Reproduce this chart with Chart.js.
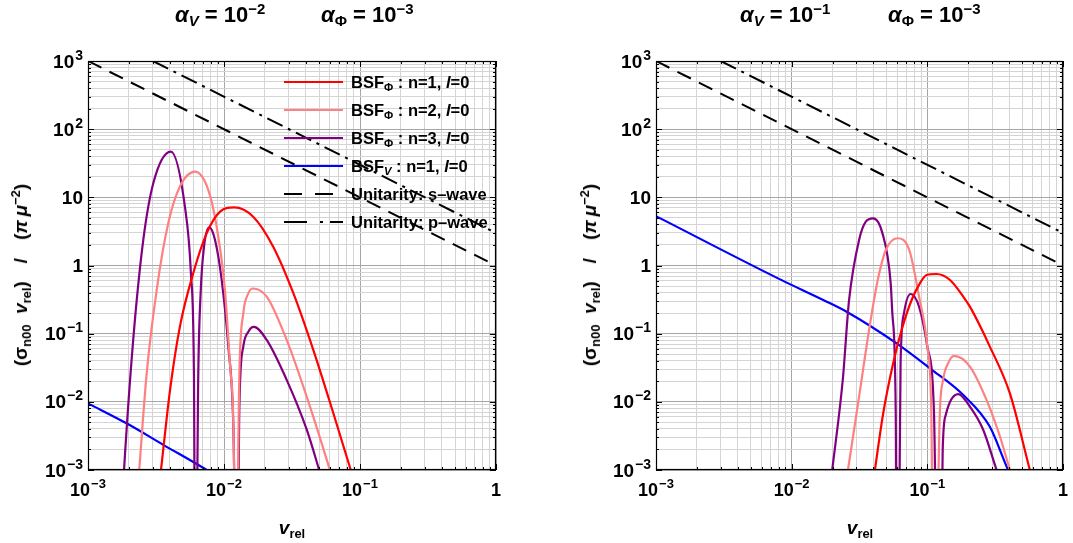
<!DOCTYPE html>
<html>
<head>
<meta charset="utf-8">
<script src="https://cdn.jsdelivr.net/npm/chart.js@4.4.0/dist/chart.umd.min.js"></script>
<style>
  html, body { margin: 0; padding: 0; background: #fff; }
  #wrap { position: relative; width: 1073px; height: 543px; overflow: hidden;
          font-family: "Liberation Sans", Arial, sans-serif; font-weight: bold; color: #000; }
  canvas { position: absolute; left: 0; top: 0; }
  .txt { position: absolute; white-space: nowrap; line-height: 26px; }
  .ttl { font-size: 22px; }
  .axt { font-size: 19px; }
  .rot { transform: translate(-50%, -50%) rotate(-90deg); }
  .ctr { transform: translate(-50%, -50%); }
  .gap { margin: 0 18px; }
  sub, sup { font-size: 68%; line-height: 0; }
  sub { vertical-align: -0.3em; }
  sup { vertical-align: 0.55em; }
  .leg { position: absolute; left: 284px; height: 20px; display: flex; align-items: center;
         font-size: 16.5px; white-space: nowrap; }
  .leg svg { width: 59px; height: 6px; margin-right: 8px; flex: none; }
</style>
</head>
<body>
<div id="wrap">
  <canvas id="left" width="1073" height="543"></canvas>
  <canvas id="right" width="1073" height="543"></canvas>

  <div class="txt ttl" style="left:175px; top:2px"><i>α</i><sub><i>V</i></sub> = 10<sup>−2</sup></div>
  <div class="txt ttl" style="left:321px; top:2px"><i>α</i><sub>Φ</sub> = 10<sup>−3</sup></div>
  <div class="txt ttl" style="left:740px; top:2px"><i>α</i><sub><i>V</i></sub> = 10<sup>−1</sup></div>
  <div class="txt ttl" style="left:888px; top:2px"><i>α</i><sub>Φ</sub> = 10<sup>−3</sup></div>

  <div class="txt axt rot" style="left:21px; top:275px">(σ<sub>n00</sub>&nbsp; <i>v</i><sub>rel</sub>)<span class="gap">/</span>(<i>π</i>&thinsp;<i>μ</i><sup>−2</sup>)</div>
  <div class="txt axt rot" style="left:590px; top:275px">(σ<sub>n00</sub>&nbsp; <i>v</i><sub>rel</sub>)<span class="gap">/</span>(<i>π</i>&thinsp;<i>μ</i><sup>−2</sup>)</div>
  <div class="txt axt ctr" style="left:292px; top:528px"><i>v</i><sub>rel</sub></div>
  <div class="txt axt ctr" style="left:860px; top:528px"><i>v</i><sub>rel</sub></div>

  <div class="leg" style="top:72px"><svg><line x1="0" y1="3" x2="59" y2="3" stroke="#ff0000" stroke-width="2.2"/></svg><span>BSF<sub>Φ</sub> : n=1, <i>l</i>=0</span></div>
  <div class="leg" style="top:100px"><svg><line x1="0" y1="3" x2="59" y2="3" stroke="#ff8080" stroke-width="2.2"/></svg><span>BSF<sub>Φ</sub> : n=2, <i>l</i>=0</span></div>
  <div class="leg" style="top:128px"><svg><line x1="0" y1="3" x2="59" y2="3" stroke="#800080" stroke-width="2.2"/></svg><span>BSF<sub>Φ</sub> : n=3, <i>l</i>=0</span></div>
  <div class="leg" style="top:156px"><svg><line x1="0" y1="3" x2="59" y2="3" stroke="#0000ff" stroke-width="2.2"/></svg><span>BSF<sub><i>V</i></sub> : n=1, <i>l</i>=0</span></div>
  <div class="leg" style="top:184px"><svg><line x1="0" y1="3" x2="59" y2="3" stroke="#000" stroke-width="2.2" stroke-dasharray="18 13"/></svg><span>Unitarity: s–wave</span></div>
  <div class="leg" style="top:212px"><svg><line x1="0" y1="3" x2="59" y2="3" stroke="#000" stroke-width="2.2" stroke-dasharray="23 13 3 7 20 0"/></svg><span>Unitarity: p–wave</span></div>
</div>

<script>
// --- ejes ---
const xTickValues = [1e-3, 1e-2, 1e-1, 1];
const xTickLabels = [['10', '−3'], ['10', '−2'], ['10', '−1'], ['1', '']];
const yTickValues = [1e-3, 1e-2, 1e-1, 1, 10, 100, 1000];
const yTickLabels = [['10', '−3'], ['10', '−2'], ['10', '−1'], ['1', ''], ['10', ''], ['10', '2'], ['10', '3']];

// --- unitarity bounds (same in both panels) ---
const unitS_v = [1e-3, 1];
const unitS_s = [1000, 1];
const unitP_v = [3e-3, 1];
const unitP_s = [1000, 3];

// --- left panel: alpha_V = 1e-2 ---
const L_n1_v = [3.2e-3, 3.44e-3, 4.01e-3, 4.74e-3, 5.94e-3, 7.45e-3, 9.35e-3, 1.19e-2, 1.64e-2, 2.30e-2, 3.24e-2, 4.54e-2, 6.37e-2, 8.55e-2, 0.102];
const L_n1_s = [3e-4, 1e-3, 0.0149, 0.127, 0.77, 2.96, 6.17, 7.14, 5.2, 1.89, 0.39, 0.0575, 0.0068, 1e-3, 3e-4];

const L_n2_v = [2.27e-3, 2.38e-3, 2.70e-3, 3.20e-3, 3.89e-3, 4.74e-3, 6.12e-3, 7.67e-3, 8.83e-3, 1.016e-2, 1.12e-2, 1.186e-2, 1.197e-2,
                1.225e-2, 1.297e-2, 1.387e-2, 1.51e-2, 1.626e-2, 2.06e-2, 2.89e-2, 4.29e-2, 6.01e-2, 7.24e-2];
const L_n2_s = [3e-4, 1e-3, 0.026, 0.44, 4.16, 14.4, 23.8, 12.8, 3.72, 0.44, 0.026, 1e-3, 1e-5,
                1e-5, 0.026, 0.20, 0.39, 0.46, 0.35, 0.081, 0.0085, 1e-3, 3e-4];

const L_n3_v = [1.78e-3, 1.84e-3, 2.15e-3, 2.55e-3, 3.02e-3, 4.06e-3, 5.16e-3, 5.71e-3, 6.01e-3, 6.15e-3,
                6.22e-3, 6.47e-3, 6.75e-3, 7.13e-3, 7.80e-3, 8.59e-3, 9.62e-3, 1.076e-2, 1.17e-2, 1.24e-2,
                1.253e-2, 1.297e-2, 1.387e-2, 1.51e-2, 1.66e-2, 2.06e-2, 2.89e-2, 4.06e-2, 5.01e-2, 6.0e-2];
const L_n3_s = [3e-4, 1e-3, 0.081, 2.37, 16.1, 46.8, 7.3, 0.77, 0.026, 1e-5,
                1e-5, 0.026, 0.44, 1.89, 3.63, 2.37, 0.61, 0.065, 0.0048, 1e-5,
                1e-5, 0.0085, 0.065, 0.107, 0.126, 0.081, 0.021, 0.0039, 1e-3, 3e-4];

const L_V_v = [1e-3, 1.92e-3, 3.58e-3, 7.46e-3, 1.1e-2];
const L_V_s = [0.0095, 0.00484, 0.00234, 1e-3, 6e-4];

// --- right panel: alpha_V = 1e-1 ---
const R_n1_v = [3.8e-2, 4.11e-2, 4.73e-2, 5.60e-2, 6.46e-2, 7.66e-2, 8.81e-2, 0.0989, 0.117, 0.147, 0.184, 0.206, 0.289, 0.406, 0.570, 0.645];
const R_n1_s = [3.1e-4, 1e-3, 0.0068, 0.0367, 0.113, 0.312, 0.548, 0.726, 0.75, 0.612, 0.349, 0.249, 0.0646, 0.0133, 1e-3, 4e-4];

const R_n2_v = [2.37e-2, 2.60e-2, 3.14e-2, 3.72e-2, 4.31e-2, 4.94e-2, 6.03e-2, 7.35e-2, 8.69e-2, 0.100, 0.107, 0.111,
                0.115, 0.1236, 0.1306, 0.1422, 0.1574, 0.206, 0.2735, 0.343, 0.406, 0.468];
const R_n2_s = [3e-4, 1e-3, 0.0119, 0.113, 0.612, 1.69, 2.51, 1.69, 0.349, 0.0646, 0.0068, 1e-5,
                1e-5, 0.0068, 0.0209, 0.0367, 0.0471, 0.0328, 0.0106, 0.0031, 1e-3, 4e-4];

const R_n3_v = [1.85e-2, 1.99e-2, 2.38e-2, 2.65e-2, 3.14e-2, 3.52e-2, 3.99e-2, 4.67e-2, 5.37e-2, 5.52e-2, 5.85e-2, 5.94e-2,
                6.11e-2, 6.35e-2, 6.73e-2, 7.53e-2, 8.69e-2, 0.100, 0.112, 0.1186,
                0.126, 0.130, 0.137, 0.150, 0.169, 0.206, 0.258, 0.324, 0.38];
const R_n3_s = [3e-4, 1e-3, 0.0209, 0.312, 2.37, 4.40, 4.92, 2.96, 0.548, 0.20, 0.0068, 1e-5,
                1e-5, 0.0367, 0.20, 0.382, 0.249, 0.0646, 0.0068, 1e-5,
                1e-5, 0.0022, 0.0065, 0.0108, 0.013, 0.0085, 0.0039, 1e-3, 4e-4];

const R_V_v = [1e-3, 8.43e-3, 1.71e-2, 2.54e-2, 5.94e-2, 0.1045, 0.184, 0.289, 0.394, 0.5];
const R_V_s = [5.3, 0.61, 0.312, 0.21, 0.072, 0.031, 0.0126, 0.0043, 1e-3, 4e-4];

// colores
const RED = '#ff0000', PINK = '#ff8080', PURPLE = '#800080', BLUE = '#0000ff';

function pts(xs, ys) {
    return xs.map((x, i) => ({ x: x, y: ys[i] }));
}

function curve(xs, ys, color) {
    return {
        data: pts(xs, ys), borderColor: color, borderWidth: 2.2,
        cubicInterpolationMode: 'monotone', capBezierPoints: false
    };
}

function unitarity(xs, ys, dash) {
    return { data: pts(xs, ys), borderColor: '#000', borderWidth: 2, borderDash: dash };
}

function isDecade(v) {
    const l = Math.log10(v);
    return Math.abs(l - Math.round(l)) < 1e-6;
}

// rejilla 1..9 x 10^k a partir de las marcas principales
function gridValues(majors) {
    const out = [];
    majors.forEach((m, i) => {
        if (i === majors.length - 1) { out.push(m); return; }
        for (let k = 1; k <= 9; k++) out.push(m * k);
    });
    return out;
}

function drawPow(ctx, base, exp, x, y, size, align) {
    const bigFont = 'bold ' + size + 'px "Liberation Sans", Arial, sans-serif';
    const smallFont = 'bold ' + Math.round(size * 0.74) + 'px "Liberation Sans", Arial, sans-serif';
    ctx.font = bigFont;
    const wb = ctx.measureText(base).width;
    ctx.font = smallFont;
    const we = exp ? ctx.measureText(exp).width + 1 : 0;
    const total = wb + we;
    const x0 = align === 'right' ? x - total : x - total / 2;
    ctx.textAlign = 'left';
    ctx.textBaseline = 'alphabetic';
    ctx.font = bigFont;
    ctx.fillText(base, x0, y);
    if (exp) {
        ctx.font = smallFont;
        ctx.fillText(exp, x0 + wb + 1, y - size * 0.42);
    }
}

// marco, marcas interiores y etiquetas de potencias
const frameTicks = {
    id: 'frameTicks',
    afterDatasetsDraw(chart) {
        const { ctx, chartArea: a, scales: { x, y } } = chart;
        ctx.save();
        ctx.strokeStyle = '#000';
        ctx.lineWidth = 1;
        ctx.beginPath();
        x.ticks.forEach(t => {
            const px = Math.round(x.getPixelForValue(t.value)) + 0.5;
            const len = isDecade(t.value) ? 6 : 3;
            ctx.moveTo(px, a.bottom); ctx.lineTo(px, a.bottom - len);
            ctx.moveTo(px, a.top); ctx.lineTo(px, a.top + len);
        });
        y.ticks.forEach(t => {
            const py = Math.round(y.getPixelForValue(t.value)) + 0.5;
            const len = isDecade(t.value) ? 6 : 3;
            ctx.moveTo(a.left, py); ctx.lineTo(a.left + len, py);
            ctx.moveTo(a.right, py); ctx.lineTo(a.right - len, py);
        });
        ctx.stroke();
        ctx.lineWidth = 1.2;
        ctx.strokeRect(Math.round(a.left) + 0.5, Math.round(a.top) + 0.5,
                       Math.round(a.right - a.left) - 1, Math.round(a.bottom - a.top) - 1);

        ctx.fillStyle = '#000';
        xTickValues.forEach((v, i) => {
            const px = x.getPixelForValue(v);
            drawPow(ctx, xTickLabels[i][0], xTickLabels[i][1], px, a.bottom + 26, 18, 'center');
        });
        yTickValues.forEach((v, i) => {
            const py = y.getPixelForValue(v);
            drawPow(ctx, yTickLabels[i][0], yTickLabels[i][1], a.left - 5, py + 6.5, 19, 'right');
        });
        ctx.restore();
    }
};

function makeChart(id, padLeft, padRight, datasets) {
    return new Chart(document.getElementById(id), {
        type: 'scatter',
        data: { datasets: datasets.map(d => Object.assign({ showLine: true, pointRadius: 0, fill: false }, d)) },
        options: {
            responsive: false,
            animation: false,
            events: [],
            layout: { padding: { left: padLeft, right: padRight, top: 61, bottom: 0 } },
            plugins: { legend: { display: false }, tooltip: { enabled: false } },
            scales: {
                x: {
                    type: 'logarithmic', min: 1e-3, max: 1,
                    afterBuildTicks: s => { s.ticks = gridValues(xTickValues).map(v => ({ value: v })); },
                    afterFit: s => { s.height = 73; },
                    ticks: { display: false },
                    grid: { drawTicks: false, lineWidth: 1,
                            color: c => (c.tick && isDecade(c.tick.value)) ? '#a6a6a6' : '#d4d4d4' },
                    border: { display: false }
                },
                y: {
                    type: 'logarithmic', min: 1e-3, max: 1e3,
                    afterBuildTicks: s => { s.ticks = gridValues(yTickValues).map(v => ({ value: v })); },
                    afterFit: s => { s.width = 88; },
                    ticks: { display: false },
                    grid: { drawTicks: false, lineWidth: 1,
                            color: c => (c.tick && isDecade(c.tick.value)) ? '#a6a6a6' : '#d4d4d4' },
                    border: { display: false }
                }
            }
        },
        plugins: [frameTicks]
    });
}

makeChart('left', 0, 577, [
    curve(L_n1_v, L_n1_s, RED),
    curve(L_n2_v, L_n2_s, PINK),
    curve(L_n3_v, L_n3_s, PURPLE),
    curve(L_V_v, L_V_s, BLUE),
    unitarity(unitS_v, unitS_s, [15, 9]),
    unitarity(unitP_v, unitP_s, [17, 6, 3, 6])
]);

makeChart('right', 568, 10, [
    curve(R_n1_v, R_n1_s, RED),
    curve(R_n2_v, R_n2_s, PINK),
    curve(R_n3_v, R_n3_s, PURPLE),
    curve(R_V_v, R_V_s, BLUE),
    unitarity(unitS_v, unitS_s, [15, 9]),
    unitarity(unitP_v, unitP_s, [17, 6, 3, 6])
]);
</script>
</body>
</html>
